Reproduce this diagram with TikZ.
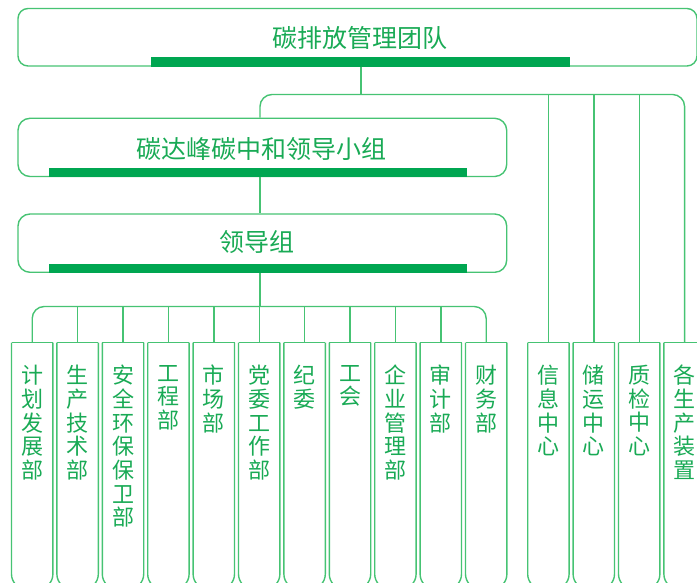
\documentclass[tikz,border=0pt]{standalone}
\usepackage{fontspec}
\setmainfont{Noto Sans CJK SC}
\definecolor{lg}{RGB}{70,195,115}
\definecolor{tg}{RGB}{25,170,85}
\definecolor{bg}{RGB}{0,166,81}
\begin{document}
\begin{tikzpicture}[x=1pt,y=-1pt,
  conn/.style={draw=lg, line width=1.4pt},
  bigbox/.style={draw=lg, line width=1.4pt, rounded corners=#1, inner sep=0pt},
  bigtext/.style={font=\fontsize{25}{25}\selectfont, text=tg, inner sep=0pt},
  deptshape/.style={minimum width=41pt, minimum height=246pt, inner sep=0pt, anchor=north},
  depttext/.style={font=\fontsize{22}{23.7}\selectfont, text=tg, align=center, inner sep=0pt, anchor=north},
  bar/.style={fill=bg}]
\useasboundingbox (0,0) rectangle (697,583);
\clip (0,0) rectangle (697,583);
% big boxes
\node[bigbox=10pt, minimum width=679pt, minimum height=57.5pt] (top) at (357.5,37.25) {};
\node[bigtext] (toptxt) at (359.5,38) {碳排放管理团队};
\fill[bar] (151,56.8) rectangle (570,66.6);
\node[bigbox=12pt, minimum width=488.7pt, minimum height=58.2pt] (grp) at (262.35,147.4) {};
\node[bigtext] (grptxt) at (261,149) {碳达峰碳中和领导小组};
\fill[bar] (49.3,168.3) rectangle (467,177.1);
\node[bigbox=12pt, minimum width=488.7pt, minimum height=58.3pt] (lead) at (262.35,243.15) {};
\node[bigtext] (leadtxt) at (257,241.7) {领导组};
\fill[bar] (49.3,264) rectangle (467,272.9);
% department boxes
\foreach \i/\t in {1/{计\\划\\发\\展\\部},2/{生\\产\\技\\术\\部},3/{安\\全\\环\\保\\保\\卫\\部},4/{工\\程\\部},5/{市\\场\\部},6/{党\\委\\工\\作\\部},7/{纪\\委},8/{工\\会},9/{企\\业\\管\\理\\部},10/{审\\计\\部},11/{财\\务\\部}}{
  \pgfmathsetmacro{\xx}{32.2+45.4*(\i-1)}
  \node[deptshape] (d\i) at (\xx,342.7) {};
  \draw[conn, rounded corners=15pt] (d\i.north west) -- (d\i.south west) -- (d\i.south east) -- (d\i.north east);
  \draw[conn] (d\i.north west) -- (d\i.north east);
  \node[depttext] (t\i) at (\xx,365) {\t};
}
\foreach \i/\xx/\t in {1/548.4/{信\\息\\中\\心},2/593.8/{储\\运\\中\\心},3/639.2/{质\\检\\中\\心},4/684.6/{各\\生\\产\\装\\置}}{
  \node[deptshape] (r\i) at (\xx,342.7) {};
  \draw[conn, rounded corners=15pt] (r\i.north west) -- (r\i.south west) -- (r\i.south east) -- (r\i.north east);
  \draw[conn] (r\i.north west) -- (r\i.north east);
  \node[depttext] (s\i) at (\xx,365) {\t};
}
% connectors
\coordinate (j1) at (361,94.5);
\coordinate (jl) at (260,306.5);
\draw[conn] (top.south -| j1) -- (j1);
\draw[conn, rounded corners=12pt] (grp.north -| jl) |- (j1) -| (r4.north);
\foreach \i in {1,2,3}{\draw[conn] (r\i.north |- j1) -- (r\i.north);}
\draw[conn] (grp.south -| jl) -- (lead.north -| jl);
\draw[conn] (lead.south -| jl) -- (jl);
\draw[conn, rounded corners=12pt] (d1.north) |- (jl) -| (d11.north);
\foreach \i in {2,...,10}{\draw[conn] (d\i.north |- jl) -- (d\i.north);}
\end{tikzpicture}
\end{document}
